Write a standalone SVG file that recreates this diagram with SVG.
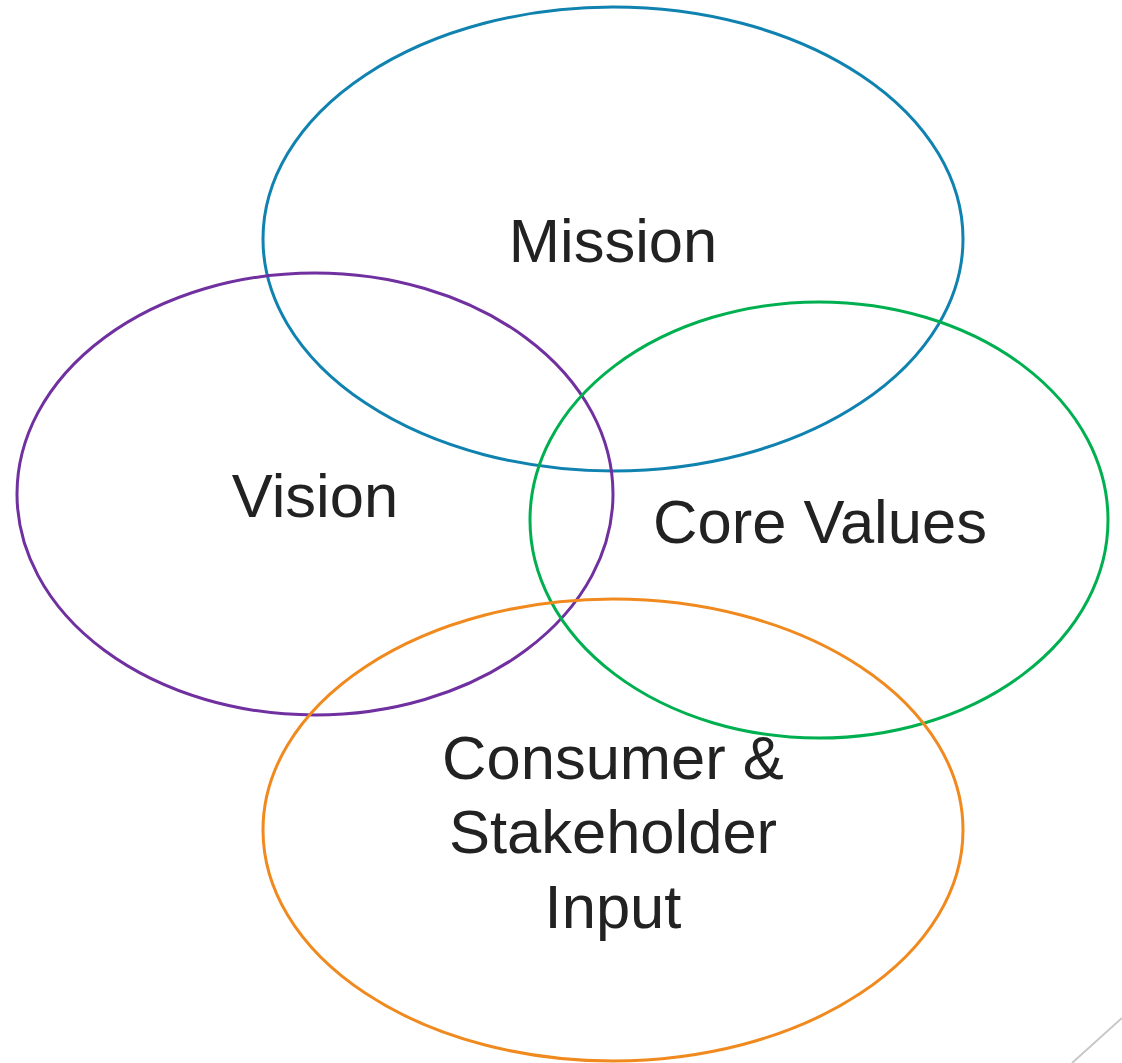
<svg xmlns="http://www.w3.org/2000/svg" width="1122" height="1063" viewBox="0 0 1122 1063">
<style>
.e{fill:none;stroke-width:3}
.t{font-family:"Liberation Sans",Arial,sans-serif;font-size:61.5px;fill:#222;text-anchor:middle}
</style>
<rect width="1122" height="1063" fill="#fff"/>
<g id="mission"><ellipse class="e" cx="613" cy="239" rx="350" ry="232" stroke="#1082b0"/><text class="t" x="613" y="262">Mission</text></g>
<g id="vision"><ellipse class="e" cx="315" cy="494" rx="298" ry="221" stroke="#7030a0"/><text class="t" x="315" y="517">Vision</text></g>
<g id="core"><ellipse class="e" cx="819" cy="520" rx="289" ry="218" stroke="#00b050"/><text class="t" x="820" y="543">Core Values</text></g>
<g id="consumer"><ellipse class="e" cx="613" cy="830" rx="350" ry="231" stroke="#f08a1e"/><text class="t" x="613" y="779">Consumer &amp;</text><text class="t" x="613" y="853">Stakeholder</text><text class="t" x="613" y="928">Input</text></g>
<g id="connectors"><line x1="1122" y1="1018" x2="1072" y2="1063" stroke="#c8c8c8" stroke-width="2"/></g>
</svg>
